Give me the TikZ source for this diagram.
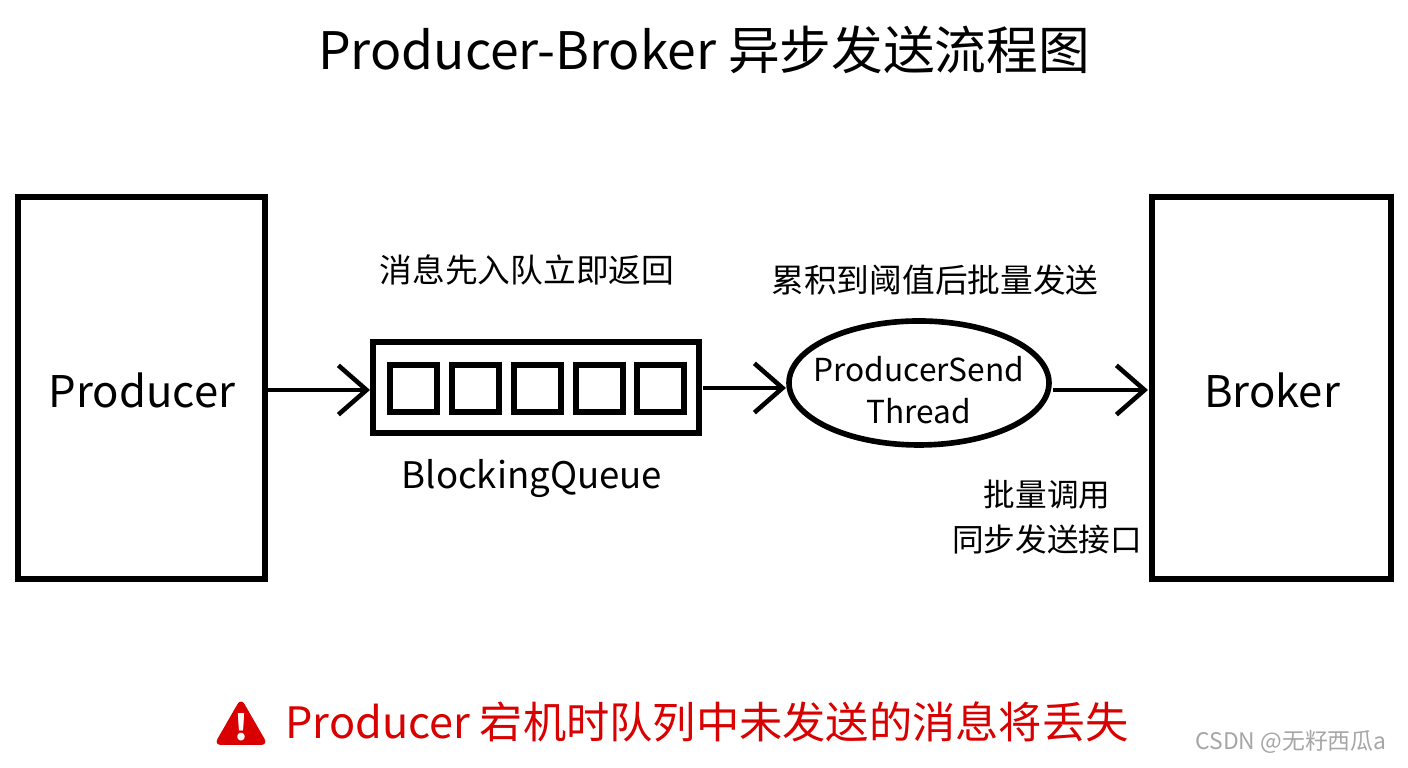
\documentclass[tikz,border=0pt]{standalone}
\usepackage{fontspec}
\setmainfont{Noto Sans CJK SC}
\usetikzlibrary{arrows.meta}
\begin{document}
\begin{tikzpicture}[x=0.01cm,y=-0.01cm,
  box/.style={draw,line width=1.6pt,inner sep=0},
  arr/.style={line width=1.3pt,-{Straight Barb[length=8pt,width=14pt,line width=1.3pt]}},
  lbl/.style={font=\fontsize{9.3pt}{11pt}\selectfont,align=center}]
\useasboundingbox (0,0) rectangle (1408,768);
\node (title) at (704,50) {\fontsize{14.7pt}{16pt}\selectfont Producer-Broker 异步发送流程图};
\draw[box] (18,197) rectangle (265,579);
\node (prod) at (142,390) {\fontsize{12.4pt}{16pt}\selectfont Producer};
\coordinate (pe) at (268,390);
\draw[box] (1152,197) rectangle (1391,579);
\node (brok) at (1272,390) {\fontsize{12.4pt}{16pt}\selectfont Broker};
\draw[box] (373,342) rectangle (699,433);
\foreach \x in {390,452,514,576,637}{\draw[line width=1.6pt] (\x,365) rectangle ++(47,47);}
\coordinate (qin) at (370,390);
\coordinate (qout) at (703,388);
\node[lbl] (l1) at (527,270) {消息先入队立即返回};
\node (bq) at (532,479) {\fontsize{10.4pt}{13pt}\selectfont BlockingQueue};
\draw[line width=1.6pt] (919,383) ellipse [x radius=130,y radius=62];
\node[align=center,font=\fontsize{9pt}{12pt}\selectfont] (th) at (919,390) {ProducerSend\\Thread};
\coordinate (ein) at (786,388);
\coordinate (eout) at (1053,390);
\coordinate (bin) at (1148,390);
\node[lbl] (l2) at (935,280) {累积到阈值后批量发送};
\node[lbl,font=\fontsize{9pt}{13pt}\selectfont] (l3) at (1047,517) {批量调用\\同步发送接口};
\draw[arr] (pe) -- (qin);
\draw[arr] (qout) -- (ein);
\draw[arr] (eout) -- (bin);
\fill[red!85!black,rounded corners=2pt] (214,745) -- (241,698) -- (268,745) -- cycle;
\node[white,font=\bfseries\fontsize{10pt}{10pt}\selectfont] (ex) at (241,727) {!};
\node[red!85!black,font=\fontsize{12.3pt}{14pt}\selectfont] (warn) at (707,722) {Producer 宕机时队列中未发送的消息将丢失};
\node[gray!70,font=\fontsize{6.5pt}{8pt}\selectfont] (wm) at (1291,742) {CSDN @无籽西瓜a};
\end{tikzpicture}
\end{document}
